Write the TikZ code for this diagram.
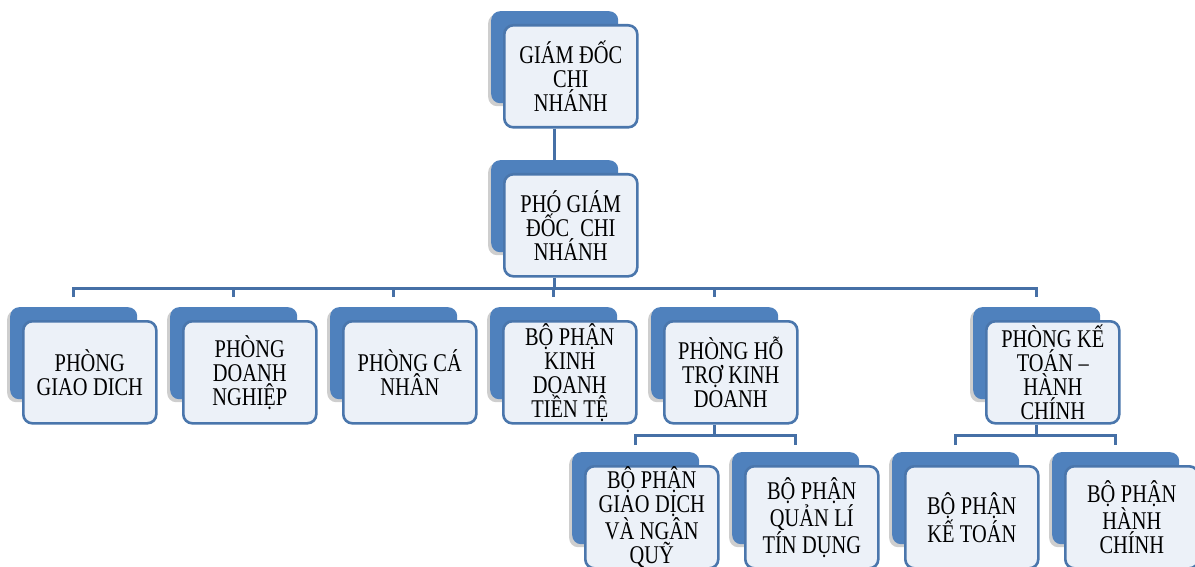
\documentclass[tikz,border=0pt]{standalone}
\usepackage{fontspec}
\setmainfont[FakeStretch=0.8]{Liberation Serif}
\usetikzlibrary{shadows}
\definecolor{backblue}{RGB}{79,129,189}
\definecolor{edgeblue}{RGB}{74,118,172}
\definecolor{frontfill}{RGB}{236,241,248}
\definecolor{connblue}{RGB}{70,112,166}
\newcommand{\tightsp}{\spaceskip=5.5pt\relax}
\tikzset{
  backbox/.style={rectangle, rounded corners=9pt, fill=backblue, draw=none,
    minimum width=127pt, minimum height=92pt, inner sep=0pt, anchor=north west,
    drop shadow={shadow xshift=-3pt, shadow yshift=-3pt, opacity=0.1, fill=black}},
  frontbox/.style={rectangle, rounded corners=9pt, fill=frontfill, draw=edgeblue,
    line width=2.6pt, minimum width=133pt, minimum height=102pt, inner xsep=3pt,
    inner ysep=0pt, text width=127pt, align=center, anchor=north west,
    font=\fontsize{25.5}{24}\selectfont, execute at begin node=\tightsp},
  conn/.style={draw=connblue, line width=3pt}
}
\begin{document}
\begin{tikzpicture}[x=1pt,y=-1pt]
\useasboundingbox (0,0) rectangle (1195,567);
\coordinate (busA) at (0,288);
\coordinate (busB) at (0,435);
% invisible reference shapes for connectors
\begin{scope}
\path (491,11) node[backbox,fill=none,drop shadow={opacity=0}] (b1) {};
\path (503,24) node[frontbox,draw=none,fill=none] (f1) {};
\path (491,160) node[backbox,fill=none,drop shadow={opacity=0}] (b2) {};
\path (503,173) node[frontbox,draw=none,fill=none] (f2) {};
\path (10,307) node[backbox,fill=none,drop shadow={opacity=0}] (b3) {};
\path (170,307) node[backbox,fill=none,drop shadow={opacity=0}] (b4) {};
\path (330,307) node[backbox,fill=none,drop shadow={opacity=0}] (b5) {};
\path (490,307) node[backbox,fill=none,drop shadow={opacity=0}] (b6) {};
\path (651,307) node[backbox,fill=none,drop shadow={opacity=0}] (b7) {};
\path (663,320) node[frontbox,draw=none,fill=none] (f7) {};
\path (973,307) node[backbox,fill=none,drop shadow={opacity=0}] (b8) {};
\path (985,320) node[frontbox,draw=none,fill=none] (f8) {};
\path (572,452) node[backbox,fill=none,drop shadow={opacity=0}] (b9) {};
\path (732,452) node[backbox,fill=none,drop shadow={opacity=0}] (b10) {};
\path (892,452) node[backbox,fill=none,drop shadow={opacity=0}] (b11) {};
\path (1052,452) node[backbox,fill=none,drop shadow={opacity=0}] (b12) {};
\end{scope}
\draw[conn] (b1.south |- f1.south) -- (b2.north);
\draw[conn] (b2.south |- f2.south) -- (b2.south |- busA);
\draw[conn] ([yshift=-9pt]b3.north |- busA) -- (b3.north |- busA) -- (b8.north |- busA) -- ([yshift=-9pt]b8.north |- busA);
\foreach \n in {b4,b5,b6,b7}
  \draw[conn] (\n.north |- busA) -- ([yshift=-9pt]\n.north |- busA);
\draw[conn] (b7.south |- f7.south) -- (b7.south |- busB);
\draw[conn] ([yshift=-10pt]b9.north |- busB) -- (b9.north |- busB) -- (b10.north |- busB) -- ([yshift=-10pt]b10.north |- busB);
\draw[conn] (b8.south |- f8.south) -- (b8.south |- busB);
\draw[conn] ([yshift=-10pt]b11.north |- busB) -- (b11.north |- busB) -- (b12.north |- busB) -- ([yshift=-10pt]b12.north |- busB);
% boxes
\node[backbox] (B1) at (491,11) {};
\node[frontbox] (F1) at (503,24) {GIÁM ĐỐC\\CHI\\NHÁNH};
\node[backbox] (B2) at (491,160) {};
\node[frontbox] (F2) at (503,173) {PHÓ GIÁM\\ĐỐC\ \ CHI\\NHÁNH};
\node[backbox] (B3) at (10,307) {};
\node[frontbox] (F3) at (22,320) {PHÒNG\\GIAO DICH};
\node[backbox] (B4) at (170,307) {};
\node[frontbox] (F4) at (182,320) {PHÒNG\\DOANH\\NGHIỆP};
\node[backbox] (B5) at (330,307) {};
\node[frontbox] (F5) at (342,320) {PHÒNG CÁ\\NHÂN};
\node[backbox] (B6) at (490,307) {};
\node[frontbox] (F6) at (502,320) {BỘ PHẬN\\KINH\\DOANH\\TIỀN TỆ};
\node[backbox] (B7) at (651,307) {};
\node[frontbox] (F7) at (663,320) {PHÒNG HỖ\\TRỢ KINH\\DOANH};
\node[backbox] (B8) at (973,307) {};
\node[frontbox] (F8) at (985,320) {PHÒNG KẾ\\TOÁN –\\HÀNH\\CHÍNH};
\node[backbox] (B9) at (572,452) {};
\node[frontbox] (F9) at (584,465) {BỘ PHẬN\\GIAO DỊCH\\VÀ NGÂN\\QUỸ};
\node[backbox] (B10) at (732,452) {};
\node[frontbox] (F10) at (744,465) {BỘ PHẬN\\QUẢN LÍ\\TÍN DỤNG};
\node[backbox] (B11) at (892,452) {};
\node[frontbox] (F11) at (904,465) {BỘ PHẬN\\KẾ TOÁN};
\node[backbox] (B12) at (1052,452) {};
\node[frontbox] (F12) at (1064,465) {BỘ PHẬN\\HÀNH\\CHÍNH};
\end{tikzpicture}
\end{document}
